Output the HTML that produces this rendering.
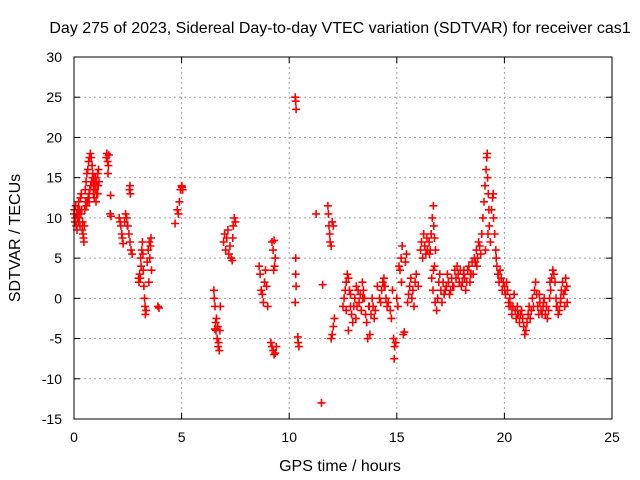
<!DOCTYPE html>
<html><head><meta charset="utf-8"><style>
html,body{margin:0;padding:0;background:#fff}
svg{display:block;font-family:"Liberation Sans",sans-serif}
</style></head><body>
<svg id="chart" width="640" height="480" viewBox="0 0 640 480">
<text x="340" y="33" font-size="16" text-anchor="middle">Day 275 of 2023, Sidereal Day-to-day VTEC variation (SDTVAR) for receiver cas1</text>
<text x="340" y="471" font-size="16" text-anchor="middle">GPS time / hours</text>
<text x="0" y="0" font-size="16" text-anchor="middle" transform="translate(20,238) rotate(-90)">SDTVAR / TECUs</text>
<g id="grid"></g>
<g id="ticks"></g>
<g id="marks"></g>
<rect x="74" y="57" width="538" height="362" fill="none" stroke="#000" stroke-width="1"/>
</svg>
<script>
const xTicks = [0, 5, 10, 15, 20, 25];
const yTicks = [-15, -10, -5, 0, 5, 10, 15, 20, 25, 30];
const hours = [
0.00,0.02,0.04,0.06,0.08,0.10,0.12,0.14,0.16,0.18,0.20,0.22,0.24,0.26,0.28,0.30,0.32,0.34,0.36,0.38,0.40,0.42,0.44,0.46,0.48,0.50,0.52,0.54,0.56,0.58,0.60,0.62,0.64,0.66,0.68,0.70,0.72,0.74,0.76,0.78,0.80,0.82,0.84,0.86,0.88,0.90,0.92,0.94,0.96,0.98,1.00,1.02,1.04,1.06,1.08,1.10,1.12,1.14,1.16,
1.50,1.53,1.56,1.60,1.62,1.58,1.70,1.72,1.68,
2.10,2.14,2.18,2.22,2.25,2.28,2.40,2.45,2.50,2.55,2.60,2.65,2.70,2.58,2.60,2.62,2.35,
3.00,3.02,3.05,3.08,3.10,3.12,3.15,3.18,3.20,3.22,3.25,3.28,3.30,3.32,3.35,3.40,3.45,3.50,3.52,3.55,3.58,3.60,3.90,3.95,
4.70,4.80,4.85,4.90,4.95,5.00,5.02,5.05,
6.50,6.52,6.55,6.58,6.60,6.62,6.65,6.68,6.70,6.72,6.75,6.78,6.80,6.55,
6.95,7.00,7.05,7.10,7.15,7.20,7.25,7.30,7.35,7.40,7.45,7.50,7.38,
8.60,8.65,8.70,8.75,8.80,8.85,8.90,8.95,9.00,
9.15,9.20,9.25,9.30,9.35,9.40,9.20,9.25,9.30,9.35,9.28,9.32,
10.28,10.30,10.32,10.30,10.30,10.32,10.28,10.40,10.42,10.45,
11.25,11.50,11.55,11.80,11.82,11.85,11.88,11.90,11.95,12.00,12.05,11.95,12.00,12.05,12.10,
12.50,12.55,12.60,12.65,12.70,12.75,12.80,12.85,12.90,12.95,12.65,12.75,12.85,13.00,13.05,13.10,13.15,13.20,13.25,13.30,13.35,13.40,13.45,13.50,13.55,13.60,13.65,13.70,13.75,13.80,13.85,13.90,13.95,14.00,14.10,14.20,14.25,14.30,14.35,14.40,14.45,14.50,14.55,14.60,14.70,14.75,14.85,14.90,14.88,14.95,14.80,
15.00,15.05,15.10,15.15,15.20,15.25,15.30,15.35,15.40,15.45,15.50,15.55,15.60,15.65,15.70,15.75,15.80,15.85,15.90,16.00,
16.10,16.15,16.20,16.25,16.30,16.35,16.40,16.50,16.55,16.60,16.65,16.70,16.72,16.75,16.80,16.75,16.70,16.62,16.68,16.78,16.85,16.90,16.95,17.00,17.05,17.10,17.20,17.25,17.30,17.40,17.45,17.50,17.55,17.60,17.70,17.75,17.80,17.85,17.90,17.95,18.00,18.05,18.10,18.15,18.20,18.25,18.30,18.35,18.40,18.45,18.50,18.55,18.60,18.65,18.70,18.75,18.80,18.85,18.90,18.95,
19.00,19.05,19.10,19.15,19.18,19.20,19.22,19.25,19.28,19.30,19.35,19.40,19.45,19.50,19.55,19.60,19.65,19.70,19.75,19.80,19.85,19.90,19.95,20.00,20.05,20.10,20.15,20.20,20.25,20.30,20.35,20.40,20.45,20.50,20.55,20.60,20.65,20.70,20.75,20.80,20.85,20.90,20.95,21.00,21.05,21.10,21.15,21.20,21.25,21.30,21.35,21.40,21.45,21.50,21.55,21.60,21.65,21.70,21.75,21.80,21.85,21.90,21.95,22.00,22.05,22.10,22.15,22.20,22.25,22.30,22.35,22.40,22.45,22.50,22.55,22.60,22.65,22.70,22.75,22.80,22.85,22.90,22.92,
17.15,17.35,17.65,18.12,18.42,18.72,19.12,19.24,19.48,19.62,19.72,20.02,20.22,20.62,21.62,21.82,22.12,22.42,22.62,22.82,13.12,13.42,13.72,14.42,15.22,16.42,16.52,0.70,0.90,1.10,2.48,3.15,3.48
];
const sdtvar = [
10.5,11,9.5,10,11.5,9,10.5,8.5,10,11,9.5,12,10,11,9,12.5,10.5,13,11,8.5,9.5,8,7.5,7,9,11,13.5,12,14.5,11.5,15.5,12,16,12.5,17,13,17.5,13.5,18,14,17.5,14.5,16.5,15,15.5,13,15,12.5,14,13.5,15,12,14.5,13,14,15.5,14,16,14.5,
17.5,18,17,16.5,17.8,15.5,12.8,10.2,10.5,
10,9.5,9,8,7.5,6.8,10.5,10,9,8,7,6,5.5,13.5,14,13,9.5,
2.5,2,3,2.5,5,4,6,7,5.5,3.5,1.5,0,-1,-2,-1.5,4.5,6,7,5,6.5,7.5,3.5,-1,-1.2,
9.3,11,10.5,12,13.5,14,13.8,13.5,
1,0,-1,-3,-4,-2.5,-5,-3.5,-6,-5.5,-6.5,-4,-1,-3.8,
7,8,6,7.5,8.5,5.5,6.5,5,4.7,9,10,9.5,7.5,
4,3,1,0.5,-0.5,2,3.5,1.5,-1,
-5.5,-6,-6.5,-7,-6.8,-6,7,6,7.2,5,3.5,4,
25,24.5,23.5,5,3,1.5,-0.5,-4.8,-5.5,-6,
10.5,-13,1.7,11.5,10.5,9,8,7,6.5,9.5,9,-5,-4.5,-3.5,-2.5,
-1,0,1,2,3,2.5,1,-1,-2,-3,-1.5,-4,0.5,-1,0,-2.5,-1,1,-0.5,0.5,-1.5,2,1,0,-2,-3,-5,-1,-4.5,-2,0,-1,-2.5,-1.5,1.5,0,-0.5,1,2,2.5,1.5,0,-1,-0.5,-1.5,-2.5,-5,-6,-7.5,-5.5,1,
0,-1,4,3.5,5,6.5,-4.5,-4.2,4.5,5.5,-0.5,0.5,1.5,2.5,0,1,-1,2,3,1.5,
6,7,5,8,6.5,5.5,7.5,7,6,8,10,11.5,9,7.5,6,4,3.5,2.5,1,-0.5,-1.5,0,2,3,1,-0.5,0.5,1,1.5,2,0.5,1,2.5,1.5,3.5,2.5,4,3,2,3.5,1.5,2,3,2.5,1,2,3.5,4,2,3,4.5,3,5,4.5,6,5,7,6.5,5.5,8,
10,12,14,16,17.5,18,15,13,11,9,7,11,12.5,10,8,6,4,3,2,3.5,2.5,1,2,1.5,0.5,2,1,-0.5,0,-1,-2,-1,0.5,-1.5,-2.5,-1,-2,-3,-2,-1.5,-2.5,-3.5,-4.5,-4,-3,-2,-1,-2.5,-1.5,0,-1,1,2,0.5,-1,-2,-0.5,-1.5,-2,-1,0,-2,-1,-2.5,-1.5,0,1,2.5,3.5,3,2,0,-1,-2,-1.5,-0.5,1,2,0.5,-1,2.5,1.5,-0.5,
2,3,1.5,3.5,3,4,6,8,13,5,3,1,-1,-2,0.5,-0.5,2,-1,0,1,1.5,0,-1,1.5,2,6,5.5,12,14,13,9,6,2
];
const X0=74, X1=612, Y0=419, Y1=57;
const xScale = t => X0 + (t - 0) / 25 * (X1 - X0);
const yScale = v => Y0 - (v + 15) / 45 * (Y0 - Y1);
const NS="http://www.w3.org/2000/svg";
const grid=document.getElementById('grid'), ticks=document.getElementById('ticks'), marks=document.getElementById('marks');
function mk(tag, attrs, parent){const e=document.createElementNS(NS,tag);for(const k in attrs)e.setAttribute(k,attrs[k]);parent.appendChild(e);return e;}
xTicks.forEach(t=>{
  const x=xScale(t);
  if(t>0&&t<25){const g=mk('line',{x1:x,x2:x,y1:Y1,y2:Y0,stroke:'#a0a0a0','stroke-dasharray':'2,3'},grid);
  
  }
  mk('line',{x1:x,x2:x,y1:Y0,y2:Y0-6,stroke:'#000'},ticks);
  mk('line',{x1:x,x2:x,y1:Y1,y2:Y1+6,stroke:'#000'},ticks);
  const l=mk('text',{x:x,y:442,'font-size':14,'text-anchor':'middle'},ticks);
  l.textContent=t;
  
  
});
yTicks.forEach(v=>{
  const y=yScale(v);
  if(v>-15&&v<30){const g=mk('line',{x1:X0,x2:X1,y1:y,y2:y,stroke:'#a0a0a0','stroke-dasharray':'2,3'},grid);
  
  }
  mk('line',{x1:X0,x2:X0+6,y1:y,y2:y,stroke:'#000'},ticks);
  mk('line',{x1:X1,x2:X1-6,y1:y,y2:y,stroke:'#000'},ticks);
  const l=mk('text',{x:62,y:y+5,'font-size':14,'text-anchor':'end'},ticks);
  l.textContent=v;
  
  
});
let d='';
for(let i=0;i<hours.length&&i<sdtvar.length;i++){
  const x=xScale(hours[i]), y=yScale(sdtvar[i]);
  d+=`M${(x-4).toFixed(1)} ${y.toFixed(1)}h8M${x.toFixed(1)} ${(y-4).toFixed(1)}v8`;
}
const p=mk('path',{d:d,stroke:'#ff0000','stroke-width':1.6,fill:'none'},marks);


</script>
</body></html>
